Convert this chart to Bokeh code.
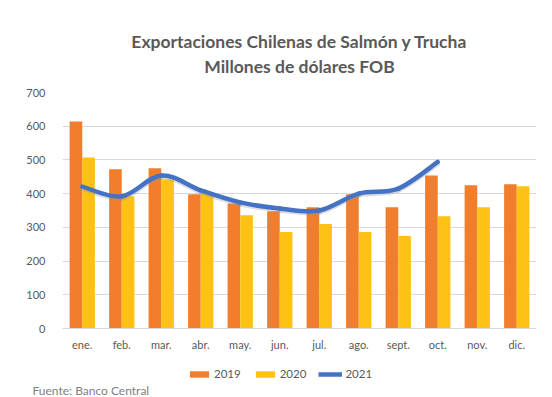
from bokeh.plotting import figure
from bokeh.models import (FixedTicker, Legend, LegendItem, Title, Range1d)
from bokeh.layouts import column
from bokeh.embed import file_html
from bokeh.resources import INLINE

months = ["ene.", "feb.", "mar.", "abr.", "may.", "jun.", "jul.", "ago.", "sept.", "oct.", "nov.", "dic."]
y2019 = [614, 472, 475, 398, 371, 348, 360, 398, 360, 454, 425, 428]
y2020 = [507, 392, 442, 402, 336, 286, 310, 286, 274, 333, 360, 422]
y2021 = [421, 392, 454, 410, 374, 356, 350, 400, 415, 494]
y_ticks = [0, 100, 200, 300, 400, 500, 600, 700]

FONT = "Lato"
GRAY = "#595959"
C19, C20, C21 = "#F07E2C", "#FDC214", "#4472C4"

p = figure(width=552, height=358, output_backend="svg", toolbar_location=None,
           x_range=Range1d(0.5, 12.5), y_range=Range1d(0, 700),
           min_border_left=62, min_border_right=16, min_border_top=92, min_border_bottom=30,
           background_fill_color="white", border_fill_color="white", outline_line_color=None)

x = list(range(1, 13))
p.vbar(x=[v - 0.16 for v in x], top=y2019, width=0.32, bottom=0, fill_color=C19, line_color=None)
p.vbar(x=[v + 0.16 for v in x], top=y2020, width=0.32, bottom=0, fill_color=C20, line_color=None)

# smooth line (Bezier segments, Catmull-Rom style like Excel smoothing)
xs21 = list(range(1, len(y2021) + 1))
pts = list(zip(xs21, y2021))
x0s, y0s, x1s, y1s, cx0, cy0, cx1, cy1 = [], [], [], [], [], [], [], []
n = len(pts)
for i in range(n - 1):
    pm = pts[i - 1] if i > 0 else pts[i]
    p0 = pts[i]
    p1 = pts[i + 1]
    p2 = pts[i + 2] if i + 2 < n else pts[i + 1]
    x0s.append(p0[0]); y0s.append(p0[1])
    x1s.append(p1[0]); y1s.append(p1[1])
    cx0.append(p0[0] + (p1[0] - pm[0]) / 6); cy0.append(p0[1] + (p1[1] - pm[1]) / 6)
    cx1.append(p1[0] - (p2[0] - p0[0]) / 6); cy1.append(p1[1] - (p2[1] - p0[1]) / 6)
p.bezier(x0=x0s, y0=[v - 5 for v in y0s], x1=x1s, y1=[v - 5 for v in y1s],
         cx0=cx0, cy0=[v - 5 for v in cy0], cx1=cx1, cy1=[v - 5 for v in cy1],
         line_color="#8a93a5", line_width=5, line_alpha=0.3, line_cap="round")
p.bezier(x0=x0s, y0=y0s, x1=x1s, y1=y1s, cx0=cx0, cy0=cy0, cx1=cx1, cy1=cy1,
         line_color=C21, line_width=4.5, line_cap="round")

# axes
p.xaxis.ticker = FixedTicker(ticks=x)
p.xaxis.major_label_overrides = {i + 1: m for i, m in enumerate(months)}
p.xaxis.major_tick_line_color = None
p.xaxis.minor_tick_line_color = None
p.xaxis.axis_line_color = "#D9D9D9"
p.xaxis.major_label_text_font = FONT
p.xaxis.major_label_text_font_size = "11px"
p.xaxis.major_label_text_color = GRAY
p.xaxis.major_label_standoff = 3

p.yaxis.ticker = FixedTicker(ticks=y_ticks)
p.yaxis.major_tick_line_color = None
p.yaxis.minor_tick_line_color = None
p.yaxis.axis_line_color = None
p.yaxis.major_label_text_font = FONT
p.yaxis.major_label_text_font_size = "11px"
p.yaxis.major_label_text_color = GRAY
p.yaxis.major_label_standoff = 11

p.xgrid.grid_line_color = None
p.ygrid.grid_line_color = "#D9D9D9"
p.ygrid.grid_line_width = 1

p.add_layout(Title(text="\u00a0", text_font=FONT, text_font_size="9px",
                   text_color="white", standoff=2), "above")
p.add_layout(Title(text="Millones de dólares FOB", text_font=FONT, text_font_size="17.5px",
                   text_color=GRAY, text_font_style="bold", align="center", offset=-11,
                   standoff=2), "above")
p.add_layout(Title(text="Exportaciones Chilenas de Salmón y Trucha", text_font=FONT,
                   text_font_size="17.5px", text_color=GRAY, text_font_style="bold",
                   align="center", offset=-11, standoff=2), "above")

# legend strip (its frame is aligned with the main frame by the column layout)
q = figure(width=552, height=39, output_backend="svg", toolbar_location=None,
           x_range=Range1d(0, 474), y_range=Range1d(0, 24),
           x_axis_location=None, y_axis_location=None,
           min_border=0, min_border_bottom=4, outline_line_color=None,
           background_fill_color="white", border_fill_color="white")
q.grid.visible = False
l19 = q.vbar(x=[-50], top=[-50], width=1, fill_color=C19, line_color=None)
l20 = q.vbar(x=[-50], top=[-50], width=1, fill_color=C20, line_color=None)
l21 = q.line(x=[-50, -49], y=[-50, -50], line_color=C21, line_width=4.5)
legend = Legend(items=[LegendItem(label="2019", renderers=[l19]),
                       LegendItem(label="2020", renderers=[l20]),
                       LegendItem(label="2021", renderers=[l21])],
                orientation="horizontal", location=(125, 0),
                label_text_font=FONT, label_text_font_size="11.5px", label_text_color=GRAY,
                glyph_width=24, glyph_height=8, spacing=12, label_standoff=3,
                label_height=12, padding=0, margin=0, border_line_color=None,
                background_fill_alpha=0)
q.add_layout(legend, "center")
q.add_layout(Title(text="Fuente:  Banco Central", text_font=FONT, text_font_size="12px",
                   text_color="#7f7f7f", text_font_style="normal", align="left",
                   offset=-30, standoff=0), "below")

open("out.html", "w").write(file_html(column(p, q, spacing=0), INLINE))
